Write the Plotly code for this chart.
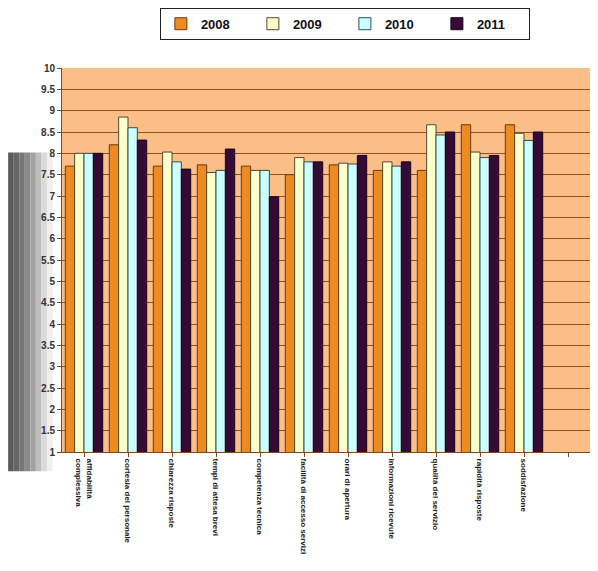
import plotly.graph_objects as go

categories = [
    "affidabilità<br>complessiva",
    "cortesia del personale",
    "chiarezza risposte",
    "tempi di attesa brevi",
    "competenza tecnica",
    "facilità di accesso servizi",
    "orari di apertura",
    "informazioni ricevute",
    "qualità del servizio",
    "rapidità risposte",
    "soddisfazione",
    " ",
]
years = ["2008", "2009", "2010", "2011"]
v2008 = [7.7, 8.2, 7.7, 7.73, 7.7, 7.5, 7.73, 7.6, 7.6, 8.67, 8.67, None]
v2009 = [8.0, 8.85, 8.03, 7.55, 7.6, 7.9, 7.77, 7.8, 8.67, 8.03, 8.47, None]
v2010 = [8.0, 8.6, 7.8, 7.6, 7.6, 7.8, 7.75, 7.7, 8.43, 7.9, 8.3, None]
v2011 = [8.0, 8.31, 7.63, 8.1, 6.98, 7.8, 7.95, 7.8, 8.5, 7.95, 8.5, None]
series = [v2008, v2009, v2010, v2011]
colors = ["#EE8A22", "#FFFFCC", "#CCFFFF", "#360A36"]
edges = ["#6B3A10", "#4A4A30", "#2F4F4F", "#1A001A"]

y_ticks = [1 + 0.5 * i for i in range(19)]
y_labels = [("%g" % t) for t in y_ticks]

fig = go.Figure()
for name, vals, c, e in zip(years, series, colors, edges):
    fig.add_trace(go.Bar(
        x=categories, y=vals, name=name,
        marker=dict(color=c, line=dict(color=e, width=1)),
    ))

# gray photographic shadow on the left edge
shades = ["#5a5a5a", "#666666", "#767676", "#8a8a8a", "#a2a2a2", "#bebebe", "#dadada", "#efefef"]
x0 = -0.102
for i, s in enumerate(shades):
    fig.add_shape(type="rect", xref="paper", yref="paper",
                  x0=x0 + i * 0.0105, x1=x0 + (i + 1) * 0.0105,
                  y0=-0.05, y1=0.78, fillcolor=s, line=dict(width=0),
                  layer="below")

fig.update_layout(
    width=590, height=563,
    margin=dict(l=54, r=8, t=60, b=119, autoexpand=False),
    paper_bgcolor="white",
    plot_bgcolor="#FBBE86",
    barmode="group",
    bargap=0.15,
    bargroupgap=0.0,
    font=dict(family="Arial, Liberation Sans, sans-serif", color="#222222"),
    legend=dict(
        orientation="h", xref="container", yref="container",
        x=0.571, y=0.972, xanchor="center", yanchor="middle",
        bgcolor="white", bordercolor="#222222", borderwidth=1,
        font=dict(size=13, family="Arial, Liberation Sans, sans-serif",
                  color="#111111", weight="bold"),
        entrywidth=47, entrywidthmode="pixels",
    ),
    xaxis=dict(
        range=[-0.5, 11.5], tickangle=90,
        tickfont=dict(size=8, color="#222222", weight="bold"),
        showline=True, linecolor="#7A4A1E", linewidth=1,
        ticks="outside", ticklen=4, tickcolor="#7A4A1E",
        showgrid=False,
    ),
    yaxis=dict(
        range=[1, 10], tickmode="array", tickvals=y_ticks, ticktext=y_labels,
        tickfont=dict(size=10, color="#333333", weight="bold"),
        showline=True, linecolor="#7A4A1E", linewidth=1,
        ticks="outside", ticklen=4, tickcolor="#7A4A1E",
        showgrid=True, gridcolor="#8A5426", gridwidth=1,
        zeroline=False,
    ),
)

fig.write_html("out.html")
